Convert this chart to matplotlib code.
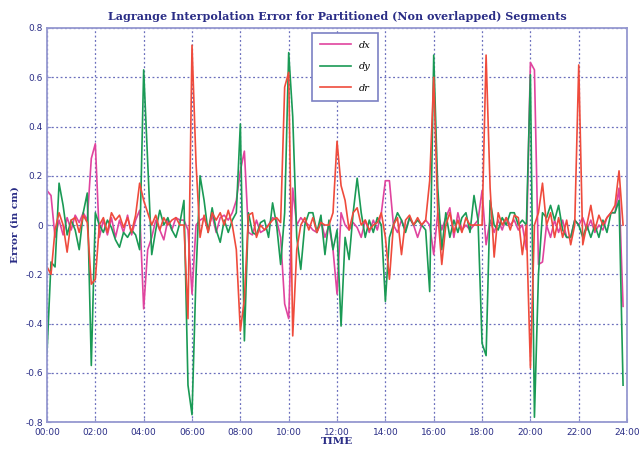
import matplotlib
matplotlib.use("Agg")
import matplotlib.pyplot as plt
import numpy as np

# interpolation error, one sample every 10 minutes from 00:00
SAMPLE_MIN = 10

dx = [0.14, 0.12, -0.05, 0.02, -0.04, 0.03, -0.02, 0.04, 0.01, 0.05, 0.02, 0.27,
      0.33, -0.05, 0.02, -0.04, 0.03, -0.05, 0.02, -0.03, 0.04, -0.04, 0.02, 0.06,
      -0.34, -0.10, -0.05, 0.02, -0.02, -0.06, 0.02, -0.02, 0.03, 0.02, 0.02, -0.02,
      -0.28, 0.00, 0.02, 0.03, -0.02, 0.04, -0.03, 0.03, 0.04, 0.02, 0.05, 0.10,
      0.22, 0.30, -0.03, -0.04, 0.02, -0.03, -0.02, 0.00, 0.03, 0.02, -0.05, -0.32,
      -0.38, 0.15, 0.00, 0.03, 0.01, 0.00, -0.02, -0.03, 0.02, -0.05, 0.00, -0.10,
      -0.28, 0.05, 0.00, -0.02, 0.01, -0.01, -0.05, 0.02, -0.03, 0.02, -0.02, 0.05,
      0.18, 0.18, 0.00, -0.03, 0.02, -0.02, 0.03, 0.00, -0.05, 0.00, 0.02, 0.00,
      -0.12, 0.05, -0.02, 0.03, 0.07, -0.05, 0.05, -0.02, 0.00, -0.02, 0.00, 0.02,
      0.14, -0.08, 0.02, -0.03, 0.02, -0.02, 0.03, 0.00, 0.02, -0.02, 0.00, -0.10,
      0.66, 0.63, -0.16, -0.15, 0.00, -0.05, 0.02, -0.03, 0.02, -0.05, -0.05, 0.02,
      0.00, 0.03, -0.02, 0.02, -0.03, 0.00, -0.02, 0.03, 0.05, 0.05, 0.15, -0.33]

dy = [-0.52, -0.15, -0.17, 0.17, 0.08, -0.04, 0.02, -0.02, -0.10, 0.05, 0.13, -0.57,
      0.05, 0.00, -0.03, 0.02, -0.01, -0.06, -0.09, -0.03, -0.05, -0.02, -0.04, -0.10,
      0.63, 0.25, -0.12, -0.02, 0.06, 0.00, 0.03, -0.02, -0.05, 0.01, 0.10, -0.65,
      -0.77, -0.20, 0.20, 0.10, -0.03, 0.07, -0.02, -0.07, 0.02, -0.03, 0.02, 0.05,
      0.41, -0.47, 0.05, -0.03, -0.04, 0.01, 0.02, -0.05, 0.09, 0.00, -0.16, 0.05,
      0.70, 0.44, -0.05, -0.18, 0.00, 0.05, 0.05, -0.03, 0.04, -0.12, 0.02, -0.10,
      -0.02, -0.41, -0.05, -0.14, 0.05, 0.19, 0.05, -0.05, 0.02, -0.03, 0.03, 0.00,
      -0.31, -0.05, 0.00, 0.05, 0.02, -0.03, 0.03, 0.00, 0.02, 0.00, -0.02, -0.27,
      0.69, 0.15, -0.10, 0.05, -0.05, 0.02, -0.03, 0.03, 0.05, -0.03, 0.12, 0.02,
      -0.48, -0.53, 0.10, 0.00, -0.02, 0.03, 0.00, 0.05, 0.05, 0.00, 0.02, 0.00,
      0.61, -0.78, -0.20, 0.05, 0.03, 0.08, 0.02, 0.08, -0.02, -0.05, -0.05, 0.02,
      0.00, -0.05, 0.00, -0.05, 0.00, -0.05, 0.02, -0.03, 0.05, 0.05, 0.10, -0.65]

dr = [-0.17, -0.20, -0.02, 0.05, 0.00, -0.11, 0.02, 0.03, -0.03, 0.04, 0.01, -0.24,
      -0.22, 0.00, 0.03, -0.03, 0.05, 0.02, 0.04, -0.01, 0.03, -0.03, 0.04, 0.17,
      0.10, 0.05, 0.00, 0.04, -0.02, 0.03, 0.00, 0.02, 0.03, 0.00, 0.00, -0.38,
      0.73, 0.25, -0.05, 0.04, -0.03, 0.05, 0.02, 0.05, 0.00, 0.06, 0.00, -0.10,
      -0.43, -0.30, 0.04, 0.05, -0.05, 0.00, -0.02, 0.00, 0.02, 0.03, 0.01, 0.56,
      0.62, -0.45, -0.10, 0.00, 0.03, -0.02, 0.03, -0.03, 0.01, 0.00, 0.00, 0.05,
      0.34, 0.16, 0.10, -0.02, 0.05, 0.07, 0.00, 0.02, -0.02, 0.00, 0.01, 0.05,
      -0.05, -0.22, 0.00, 0.03, -0.12, 0.02, 0.04, 0.00, 0.03, 0.00, 0.02, 0.18,
      0.60, 0.05, -0.16, 0.00, 0.05, -0.03, 0.02, -0.03, 0.03, 0.00, 0.00, 0.00,
      0.00, 0.69, 0.15, -0.13, 0.05, 0.00, 0.03, -0.02, 0.04, 0.03, -0.12, 0.00,
      -0.58, 0.00, 0.05, 0.17, 0.00, 0.05, -0.05, 0.03, -0.05, 0.02, -0.08, 0.00,
      0.65, -0.08, 0.00, 0.08, -0.02, 0.04, 0.00, 0.03, 0.05, 0.08, 0.22, 0.00]

x_ticks = [0, 2, 4, 6, 8, 10, 12, 14, 16, 18, 20, 22, 24]
x_labels = ["00:00", "02:00", "04:00", "06:00", "08:00", "10:00", "12:00",
            "14:00", "16:00", "18:00", "20:00", "22:00", "24:00"]
y_ticks = [-0.8, -0.6, -0.4, -0.2, 0, 0.2, 0.4, 0.6, 0.8]
y_labels = ["-0.8", "-0.6", "-0.4", "-0.2", "0", "0.2", "0.4", "0.6", "0.8"]

NAVY = "#2a2d86"
hours = np.arange(len(dx)) * SAMPLE_MIN / 60.0

fig = plt.figure(figsize=(6.41, 4.51), dpi=100)
ax = fig.add_axes([0.0733, 0.064, 0.905, 0.874])

ax.plot(hours, dx, color="#e0449e", lw=1.2, label="dx")
ax.plot(hours, dy, color="#1a9a55", lw=1.2, label="dy")
ax.plot(hours, dr, color="#ef4b3c", lw=1.2, label="dr")

ax.set_xlim(0, 24)
ax.set_ylim(-0.8, 0.8)
ax.set_xticks(x_ticks)
ax.set_xticklabels(x_labels)
ax.set_yticks(y_ticks)
ax.set_yticklabels(y_labels)
ax.tick_params(direction="in", length=3, color="#8c8fcc", labelcolor=NAVY,
               labelsize=6.5)
ax.tick_params(axis="x", pad=4)
ax.tick_params(axis="y", pad=3)
for lab in ax.get_xticklabels() + ax.get_yticklabels():
    lab.set_fontfamily(["Liberation Sans Narrow", "DejaVu Sans"])

ax.grid(True, linestyle=(0, (1.5, 2)), color="#6a6ebc", lw=0.9)
for s in ax.spines.values():
    s.set_color("#9598d0")
    s.set_linewidth(1.3)

ax.set_title("Lagrange Interpolation Error for Partitioned (Non overlapped) Segments",
             fontsize=8, fontweight="bold", color=NAVY, family="DejaVu Serif", pad=6)
ax.set_xlabel("TIME", fontsize=7.5, fontweight="bold", color=NAVY,
              family="DejaVu Serif", labelpad=0)
ax.set_ylabel("Error (in cm)", fontsize=7.5, fontweight="bold", color=NAVY,
              family="DejaVu Serif", labelpad=4)

leg = ax.legend(loc="upper center", bbox_to_anchor=(0.514, 1.0), handlelength=3.2,
                labelspacing=1.3, borderpad=0.8, fancybox=False, framealpha=1,
                prop={"family": "DejaVu Serif", "style": "italic", "size": 7})
leg.get_frame().set_edgecolor("#7c80c4")
leg.get_frame().set_linewidth(1.2)

fig.savefig("out.png", dpi=100)
